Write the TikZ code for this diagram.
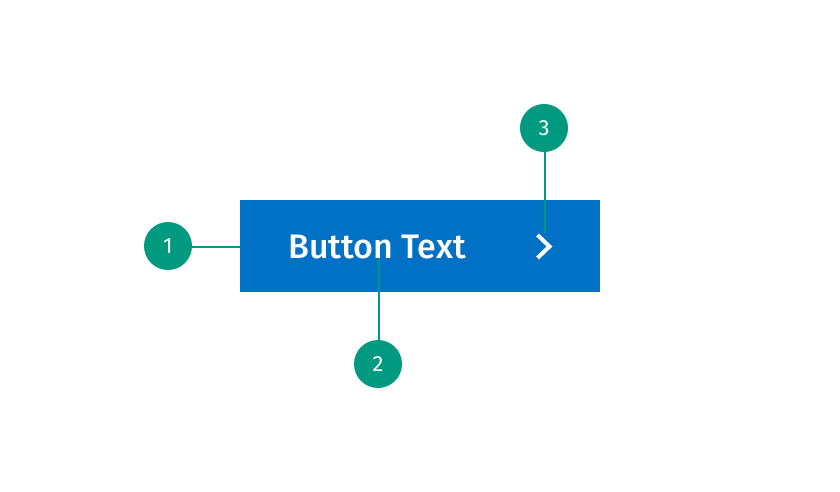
\documentclass[tikz,border=0pt]{standalone}
\usepackage{fontspec}
\setmainfont{Fira Sans}
\newfontfamily\btnfont{Fira Sans Medium}
\definecolor{btnblue}{HTML}{0071C5}
\definecolor{callout}{HTML}{009A80}
\newcommand{\digitlabel}[1]{\raisebox{-0.6pt}{#1}}
\tikzset{
  x=1pt,y=-1pt,
  callout node/.style={circle,fill=callout,minimum size=48pt,inner sep=0pt,text=white,font=\fontsize{22}{26}\selectfont},
  leader/.style={draw=callout,line width=2pt,line cap=butt},
  button/.style={fill=btnblue,minimum width=360pt,minimum height=92pt,inner sep=0pt,anchor=north west},
  label text/.style={text=white,inner sep=0pt,anchor=base,font=\btnfont\fontsize{34}{36}\selectfont}
}
\begin{document}
\begin{tikzpicture}
\useasboundingbox (0,0) rectangle (840,492);
\fill[white] (0,0) rectangle (840,492);
\node[button] (btn) at (240,200) {};
\node[label text] (txt) at (377,258) {Button Text};
\coordinate (c1) at (240,246.7);
\coordinate (c2) at (378.8,259);
\coordinate (c3) at (545,233);
\node[callout node] (n1) at (168,246) {\digitlabel{1}};
\node[callout node] (n2) at (378,364) {\digitlabel{2}};
\node[callout node] (n3) at (544,128) {\digitlabel{3}};
\draw[leader] (n1.east |- c1) -- (c1);
\draw[leader] (n2.north -| c2) -- (c2);
\draw[leader] (n3.south -| c3) -- (c3);
\draw[white,line width=4pt,miter limit=10] (537.5,235) -- (549.5,246.5) -- (537.5,258);
\end{tikzpicture}
\end{document}
